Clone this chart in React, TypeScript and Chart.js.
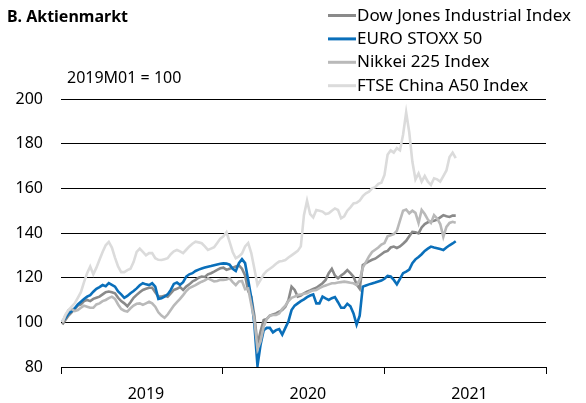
import React, { useEffect, useRef } from "react";
import { Chart, registerables } from "chart.js";

Chart.register(...registerables);

const TITLE = "B. Aktienmarkt";
const NOTE = "2019M01 = 100";
const SERIES_NAMES = [
  "Dow Jones Industrial Index",
  "EURO STOXX 50",
  "Nikkei 225 Index",
  "FTSE China A50 Index",
];
const SERIES_COLORS = ["#8a8a8a", "#0a6fba", "#b9b9b9", "#dbdbdb"];
const YEAR_LABELS = ["2019", "2020", "2021"];
const Y_MIN = 80;
const Y_MAX = 200;
const Y_STEP = 20;
const FIRST_WEEK = "2019-01-04";

// weekly index values (2019M01 = 100)
const dowJones = [
  99, 101, 103, 104.5, 106, 107.5, 108, 109.5, 110, 109.5,
  110.5, 111, 111.5, 112.5, 113.5, 113.8, 113.5, 113, 111, 109.5,
  108.5, 107.2, 109, 111, 112.3, 113.5, 114.5, 115, 115.5, 115.5,
  113.5, 111.5, 111.5, 112, 111.5, 113, 114.5, 115, 115.8, 114.5,
  116, 117, 118.3, 119, 120, 120.5, 120.3, 121.5, 122, 122.7,
  123.5, 124.2, 124.5, 123.5, 124, 124.5, 125, 125.5, 124, 121,
  114, 111.5, 103, 90, 96, 101, 101.5, 103, 103.5, 104,
  104.8, 105.5, 107, 110, 116, 114.5, 111.5, 112, 113, 113.7,
  114.3, 115, 115.5, 116.5, 117.5, 119, 122, 124, 121, 119.7,
  121, 122, 123.4, 122, 120.4, 117, 115, 125.7, 126.5, 127.3,
  128, 128.5, 129.5, 130.5, 131.5, 132, 133.5, 133.9, 133.3, 134,
  135.2, 136.5, 138.5, 140.5, 140.3, 139.8, 142.5, 144, 144.8, 145.2,
  145.5, 146, 147, 148, 147.5, 147.2, 147.8, 147.8,
];

const euroStoxx = [
  100.5, 102, 104, 105, 106.3, 108, 109.2, 110.5, 111.5, 112.2,
  113.7, 115, 115.8, 116.7, 116.2, 117.6, 116.8, 116, 113.8, 112.5,
  111, 111.8, 113, 114, 115.2, 116.6, 117.5, 117, 116.7, 117.5,
  116, 110.5, 110.8, 111.5, 112.5, 114.5, 117.2, 117.8, 116.8, 118,
  120.5, 121.5, 122, 123, 123.6, 124.1, 124.5, 124.9, 125.2, 125.6,
  125.9, 126.2, 126.4, 126.3, 125.8, 124, 123, 126.5, 128.3, 126.5,
  119, 111, 99, 80.5, 90, 96.5, 97.5, 97.5, 95.5, 96.5,
  97, 94.5, 97.5, 100.5, 105.5, 107.5, 108.5, 109.5, 110.3, 111.3,
  112, 112.5, 108.5, 108.5, 111.5, 110.7, 110, 110.8, 111.3, 109,
  106.5, 106.5, 108.3, 107.2, 104, 99, 103, 116, 116.5, 117,
  117.4, 117.8, 118.3, 118.7, 119.5, 120.8, 120.5, 119, 117, 119.5,
  122, 122.7, 123.6, 126.5, 128.2, 129.3, 130.5, 132, 133, 133.9,
  133.5, 133.2, 132.8, 132.4, 133.5, 134.5, 135.3, 136.3,
];

const nikkei = [
  100, 103, 105.5, 106, 105, 105.5, 106.5, 107.5, 107, 106.5,
  106.5, 108, 108.5, 109.5, 110, 110.8, 111.5, 110.5, 108, 106,
  105.2, 104.8, 106.3, 107.5, 108.3, 108.5, 107.8, 108.5, 109.2, 108.5,
  107, 104.5, 103, 102, 103.5, 105.5, 107.5, 109, 110.5, 112.2,
  114, 115.3, 116, 116.7, 117.5, 118.2, 118.8, 119.7, 119, 118.3,
  118.5, 119, 119, 119.2, 119.7, 118, 116.7, 118.3, 118.5, 114.8,
  115.2, 108, 101, 88, 91.5, 98, 101.5, 103, 103.3, 103.3,
  104, 106, 107.5, 109.5, 111, 111.5, 112.2, 112.5, 112.8, 113,
  113.8, 114.3, 114.5, 115.3, 116, 116.5, 117, 117.5, 117.5, 117.8,
  118, 118.2, 118, 117.7, 117.5, 116.7, 119, 124.5, 127, 129.5,
  131.5, 132.5, 133.5, 134.8, 135.5, 138.5, 139, 139.5, 141, 145.5,
  150, 150.5, 148.8, 150, 149, 144.5, 150.3, 148.5, 146, 144.5,
  148, 146.5, 144, 138.3, 142.7, 144.5, 145, 144.6,
];

const ftseA50 = [
  100, 103.5, 105.5, 107, 108.5, 111, 113.5, 118, 122, 125,
  121.5, 124.5, 128, 131.5, 134.5, 136, 133.5, 129, 125, 122.5,
  122.5, 123.4, 124, 127, 131.5, 133, 131.5, 130, 131, 131,
  128.7, 128, 127.9, 128.3, 128.7, 130.5, 131.8, 132.4, 131.8, 131,
  132.5, 134, 135.2, 136.1, 135.8, 135.4, 134, 132.4, 133, 133.6,
  135.5, 137.5, 138.5, 140.3, 136, 131.5, 128.7, 129.5, 130.8, 134,
  135.5, 131, 124, 116.7, 119, 121.5, 123, 124, 125, 126.2,
  127.2, 127.5, 127.9, 129, 130, 131, 132, 134, 148, 154.5,
  148.5, 147, 150.3, 150, 149.6, 148.5, 148.8, 150, 151, 150.3,
  146.6, 147.5, 150, 151.5, 153.2, 153.5, 154.5, 156.5, 157.8, 158.5,
  160, 160.5, 162, 162.5, 166, 175, 177, 176, 178, 177,
  184, 194, 185, 172, 164, 166.7, 163, 165.5, 163, 161.5,
  164.5, 164, 163, 165.5, 168, 174, 176, 173.5,
];

const SERIES = [dowJones, euroStoxx, nikkei, ftseA50];

const DAY = 86400000;
const weekDates = dowJones.map((_, i) => Date.parse(FIRST_WEEK) + i * 7 * DAY);

const X_MIN = Date.UTC(2019, 0, 1);
const X_MAX = Date.UTC(2022, 0, 1);
// year boundaries (tick marks) alternating with label positions
const X_TICKS = [
  Date.UTC(2019, 0, 1),
  Date.UTC(2019, 6, 12),
  Date.UTC(2020, 0, 1),
  Date.UTC(2020, 6, 12),
  Date.UTC(2021, 0, 1),
  Date.UTC(2021, 6, 12),
  Date.UTC(2022, 0, 1),
];

const FONT = "'Noto Sans', sans-serif";

const textPlugin = {
  id: "chartTexts",
  afterDraw(chart: any) {
    const ctx = chart.ctx as CanvasRenderingContext2D;
    ctx.save();
    ctx.fillStyle = "#000";
    ctx.textBaseline = "alphabetic";
    ctx.textAlign = "left";
    ctx.font = `bold 16px ${FONT}`;
    ctx.fillText(TITLE, 7, 22);
    ctx.font = `16px ${FONT}`;
    ctx.fillText(NOTE, 67, 83);
    ctx.font = `17px ${FONT}`;
    SERIES_NAMES.forEach((name, i) => {
      const base = 20.5 + i * 23.4;
      ctx.strokeStyle = SERIES_COLORS[i];
      ctx.lineWidth = 3;
      ctx.beginPath();
      ctx.moveTo(328, base - 5);
      ctx.lineTo(356, base - 5);
      ctx.stroke();
      ctx.fillStyle = "#000";
      ctx.fillText(name, 357, base);
    });
    ctx.restore();
  },
};

export default function App() {
  const ref = useRef<HTMLCanvasElement>(null);
  useEffect(() => {
    if (!ref.current) return;
    const datasets = SERIES.map((vals, i) => ({
      label: SERIES_NAMES[i],
      data: vals.map((v, j) => ({ x: weekDates[j], y: v })),
      borderColor: SERIES_COLORS[i],
      backgroundColor: SERIES_COLORS[i],
      borderWidth: 2.6,
      pointRadius: 0,
      tension: 0,
      fill: false,
      order: 4 - i,
    }));
    const chart = new Chart(ref.current, {
      type: "line",
      data: { datasets },
      plugins: [textPlugin],
      options: {
        animation: false,
        responsive: false,
        devicePixelRatio: 1,
        parsing: false as any,
        layout: { padding: { top: 99, right: 40, left: 0, bottom: 0 } },
        plugins: { legend: { display: false }, tooltip: { enabled: false } },
        scales: {
          x: {
            type: "linear",
            min: X_MIN,
            max: X_MAX,
            afterBuildTicks: (scale: any) => {
              scale.ticks = X_TICKS.map((v) => ({ value: v }));
            },
            afterFit: (scale: any) => {
              scale.height = 36;
            },
            ticks: {
              autoSkip: false,
              maxRotation: 0,
              padding: 11,
              color: "#000",
              font: { family: FONT, size: 16 },
              callback: (_v: any, index: number) =>
                index % 2 === 1 ? YEAR_LABELS[(index - 1) / 2] : "",
            },
            grid: {
              display: true,
              drawOnChartArea: false,
              drawTicks: true,
              tickLength: 7,
              tickWidth: 1,
              tickColor: (c: any) => (c.index % 2 === 0 ? "#000" : "rgba(0,0,0,0)"),
              color: "#000",
            },
            border: { display: true, color: "#000", width: 1 },
          },
          y: {
            min: Y_MIN,
            max: Y_MAX,
            afterFit: (scale: any) => {
              scale.width = 61;
            },
            ticks: {
              stepSize: Y_STEP,
              padding: 18,
              color: "#000",
              font: { family: FONT, size: 16 },
            },
            grid: { color: "#000", lineWidth: 1, drawTicks: false },
            border: { display: false },
          },
        },
      },
    });
    return () => chart.destroy();
  }, []);
  return (
    <div
      style={{
        position: "absolute",
        left: 0,
        top: 0,
        width: 586,
        height: 403,
        background: "#fff",
      }}
    >
      <canvas ref={ref} width={586} height={403} style={{ display: "block" }} />
    </div>
  );
}
